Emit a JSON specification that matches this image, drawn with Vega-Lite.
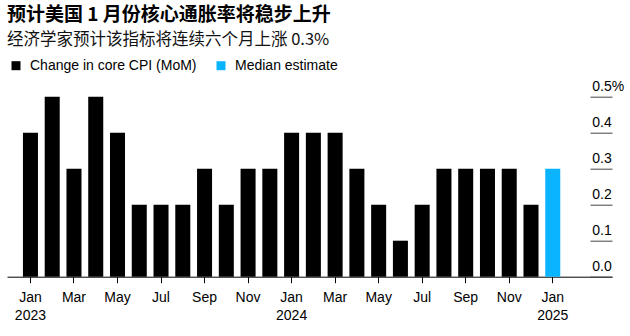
{
  "$schema": "https://vega.github.io/schema/vega-lite/v6.json",
  "autosize": {"type": "none"},
  "width": 605,
  "height": 180,
  "padding": {"left": 7, "top": 96.7, "right": 18, "bottom": 59.3},
  "background": "white",
  "title": {
    "text": "预计美国 1 月份核心通胀率将稳步上升",
    "subtitle": "经济学家预计该指标将连续六个月上涨 0.3%",
    "anchor": "start",
    "frame": "group",
    "font": "Noto Sans CJK SC",
    "fontSize": 19,
    "fontWeight": "bold",
    "color": "#000000",
    "subtitleFont": "Noto Sans CJK SC",
    "subtitleFontSize": 16.5,
    "subtitleColor": "#111111",
    "subtitlePadding": 7,
    "offset": 10
  },
  "data": {
    "values": [
      {"month": "2023-01", "value": 0.4, "series": "Change in core CPI (MoM)"},
      {"month": "2023-02", "value": 0.5, "series": "Change in core CPI (MoM)"},
      {"month": "2023-03", "value": 0.3, "series": "Change in core CPI (MoM)"},
      {"month": "2023-04", "value": 0.5, "series": "Change in core CPI (MoM)"},
      {"month": "2023-05", "value": 0.4, "series": "Change in core CPI (MoM)"},
      {"month": "2023-06", "value": 0.2, "series": "Change in core CPI (MoM)"},
      {"month": "2023-07", "value": 0.2, "series": "Change in core CPI (MoM)"},
      {"month": "2023-08", "value": 0.2, "series": "Change in core CPI (MoM)"},
      {"month": "2023-09", "value": 0.3, "series": "Change in core CPI (MoM)"},
      {"month": "2023-10", "value": 0.2, "series": "Change in core CPI (MoM)"},
      {"month": "2023-11", "value": 0.3, "series": "Change in core CPI (MoM)"},
      {"month": "2023-12", "value": 0.3, "series": "Change in core CPI (MoM)"},
      {"month": "2024-01", "value": 0.4, "series": "Change in core CPI (MoM)"},
      {"month": "2024-02", "value": 0.4, "series": "Change in core CPI (MoM)"},
      {"month": "2024-03", "value": 0.4, "series": "Change in core CPI (MoM)"},
      {"month": "2024-04", "value": 0.3, "series": "Change in core CPI (MoM)"},
      {"month": "2024-05", "value": 0.2, "series": "Change in core CPI (MoM)"},
      {"month": "2024-06", "value": 0.1, "series": "Change in core CPI (MoM)"},
      {"month": "2024-07", "value": 0.2, "series": "Change in core CPI (MoM)"},
      {"month": "2024-08", "value": 0.3, "series": "Change in core CPI (MoM)"},
      {"month": "2024-09", "value": 0.3, "series": "Change in core CPI (MoM)"},
      {"month": "2024-10", "value": 0.3, "series": "Change in core CPI (MoM)"},
      {"month": "2024-11", "value": 0.3, "series": "Change in core CPI (MoM)"},
      {"month": "2024-12", "value": 0.2, "series": "Change in core CPI (MoM)"},
      {"month": "2025-01", "value": 0.3, "series": "Median estimate"}
    ]
  },
  "mark": {"type": "bar"},
  "encoding": {
    "x": {
      "field": "month",
      "type": "ordinal",
      "sort": null,
      "scale": {
        "domain": ["2023-01","2023-02","2023-03","2023-04","2023-05","2023-06","2023-07","2023-08","2023-09","2023-10","2023-11","2023-12","2024-01","2024-02","2024-03","2024-04","2024-05","2024-06","2024-07","2024-08","2024-09","2024-10","2024-11","2024-12","2025-01","2025-02","2025-03"],
        "paddingInner": 0.31,
        "paddingOuter": 0.555,
        "align": 0.66
      },
      "axis": {
        "title": null,
        "values": ["2023-01","2023-03","2023-05","2023-07","2023-09","2023-11","2024-01","2024-03","2024-05","2024-07","2024-09","2024-11","2025-01"],
        "labelExpr": "[['Jan','Feb','Mar','Apr','May','Jun','Jul','Aug','Sep','Oct','Nov','Dec'][toNumber(substring(datum.value,5,7))-1], substring(datum.value,5,7)=='01' ? substring(datum.value,0,4) : '']",
        "labelAngle": 0,
        "labelFont": "Liberation Sans",
        "labelFontSize": 14,
        "labelColor": "#000000",
        "labelPadding": 8,
        "labelLineHeight": 17.5,
        "domainColor": "#000000",
        "domainWidth": 1,
        "tickColor": "#000000",
        "tickSize": 6,
        "tickWidth": 1,
        "grid": false
      }
    },
    "y": {
      "field": "value",
      "type": "quantitative",
      "scale": {"domain": [0, 0.5]},
      "axis": {
        "title": null,
        "orient": "right",
        "offset": -22,
        "domain": false,
        "grid": false,
        "values": [0, 0.1, 0.2, 0.3, 0.4, 0.5],
        "tickSize": 22,
        "tickColor": "#444444",
        "tickWidth": 1,
        "labelAlign": "left",
        "labelBaseline": "alphabetic",
        "labelPadding": -20.3,
        "labelOffset": -6.7,
        "labelFlush": false,
        "labelBound": false,
        "labelOverlap": false,
        "labelFont": "Liberation Sans",
        "labelFontSize": 14,
        "labelColor": "#000000",
        "labelExpr": "datum.value == 0.5 ? '0.5%' : format(datum.value, '.1f')"
      }
    },
    "color": {
      "field": "series",
      "type": "nominal",
      "scale": {
        "domain": ["Change in core CPI (MoM)", "Median estimate"],
        "range": ["#000000", "#0bb4ff"]
      },
      "legend": {
        "orient": "none",
        "legendX": 2,
        "legendY": -38,
        "direction": "horizontal",
        "title": null,
        "symbolType": "square",
        "symbolSize": 81,
        "symbolStrokeWidth": 0,
        "labelFont": "Liberation Sans",
        "labelFontSize": 14,
        "labelColor": "#000000",
        "labelOffset": 7,
        "labelLimit": 400,
        "columnPadding": 17
      }
    }
  },
  "config": {"view": {"stroke": null}}
}
